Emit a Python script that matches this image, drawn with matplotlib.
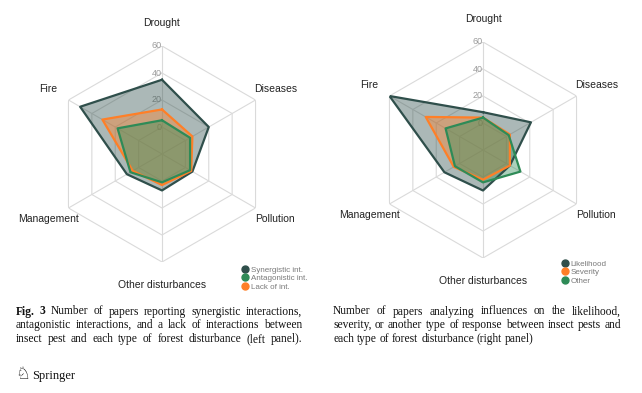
import numpy as np
import matplotlib
matplotlib.use("Agg")
import matplotlib.pyplot as plt
from matplotlib.lines import Line2D

# ---- data ----
categories = ['Drought', 'Diseases', 'Pollution', 'Other disturbances', 'Management', 'Fire']
ticks = [0, 20, 40, 60]

synergistic = [35, 20, 6, 7, 10, 50]
antagonistic = [5, 4, 4, 1, 7, 18]
lack = [13, 6, 5, 3, 5, 31]

likelihood = [8, 21, 3, 10, 13, 60]
severity = [4, 3, 3, 2, 5, 29]
other = [4, 2, 12, 4, 4, 12]

left_labels = ['Synergistic int.', 'Antagonistic int.', 'Lack of int.']
right_labels = ['Likelihood', 'Severity', 'Other']

DARK = '#2f4f4b'
GREEN = '#2e8b57'
ORANGE = '#ff7f27'
GRID = '#dadada'

W, H = 642, 393
fig = plt.figure(figsize=(W / 100, H / 100), dpi=100)
fig.patch.set_facecolor('white')

angles = np.arange(len(categories)) * 2 * np.pi / len(categories)
closed = np.append(angles, angles[0])


def radar(rect, series, colors):
    ax = fig.add_axes(rect, projection='polar')
    ax.set_theta_offset(np.pi / 2)
    ax.set_theta_direction(-1)
    ax.set_ylim(-20, 60)
    ax.set_axis_off()
    # hexagonal grid
    for v in ticks:
        ax.plot(closed, [v] * len(closed), color=GRID, lw=0.8, zorder=1)
    for a in angles:
        ax.plot([a, a], [-20, 60], color=GRID, lw=0.8, zorder=1)
    for v in ticks:
        ax.text(0, v, str(v), ha='right', va='center', fontsize=6.5,
                color='#9a9a9a', family='Liberation Sans', zorder=2)
    for a, c in zip(angles, categories):
        ax.text(a, 77, c, ha='center', va='center', fontsize=7.5,
                color='#222222', family='Liberation Sans')
    for vals, col in zip(series, colors):
        v = np.append(vals, vals[0])
        ax.fill(closed, v, color=col, alpha=0.4, lw=0, zorder=3)
        ax.plot(closed, v, color=col, lw=1.6, zorder=4)
    return ax


radar([54 / W, 131 / H, 216 / W, 216 / H],
      [synergistic, lack, antagonistic], [DARK, ORANGE, GREEN])
radar([375 / W, 135 / H, 216 / W, 216 / H],
      [likelihood, severity, other], [DARK, ORANGE, GREEN])


def legend(labels, colors, x, y):
    handles = [Line2D([], [], marker='o', ls='', color=c, markersize=5) for c in colors]
    fig.legend(handles, labels, loc='upper left', bbox_to_anchor=(x / W, 1 - y / H),
               frameon=False, prop={'family': 'Liberation Sans', 'size': 5.8},
               labelcolor='#7a7a7a', handlelength=0.8, handletextpad=0.3,
               labelspacing=0.12, borderpad=0, borderaxespad=0)


legend(left_labels, [DARK, GREEN, ORANGE], 242, 266)
legend(right_labels, [DARK, ORANGE, GREEN], 562, 260)

# ---- caption ----
renderer = fig.canvas.get_renderer()
CAP = dict(family='Liberation Serif', size=8.3, color='#111111')


def line(words, x0, x1, y, justify=True):
    objs = []
    for w, bold in words:
        t = fig.text(0, 1 - y / H, w, va='baseline', ha='left',
                     weight='bold' if bold else 'normal', **CAP)
        objs.append(t)
    widths = [t.get_window_extent(renderer).width for t in objs]
    if justify and len(objs) > 1:
        gap = (x1 - x0 - sum(widths)) / (len(objs) - 1)
    else:
        gap = objs[0].get_fontsize() * 0.25 * 100 / 72
    x = x0
    for t, w in zip(objs, widths):
        t.set_x(x / W)
        x += w + gap


def words(s, bold_n=0):
    ws = s.split()
    return [(w, i < bold_n) for i, w in enumerate(ws)]


left_cap = ['Fig. 3 Number of papers reporting synergistic interactions,',
            'antagonistic interactions, and a lack of interactions between',
            'insect pest and each type of forest disturbance (left panel).']
right_cap = ['Number of papers analyzing influences on the likelihood,',
             'severity, or another type of response between insect pests and',
             'each type of forest disturbance (right panel)']
ys = [314.5, 328, 342]
for i, (s, y) in enumerate(zip(left_cap, ys)):
    line(words(s, 2 if i == 0 else 0), 16, 302, y)
for i, (s, y) in enumerate(zip(right_cap, ys)):
    line(words(s), 333, 621, y, justify=i < 2)

fig.text(15 / W, 1 - 379 / H, '\u2658', family='DejaVu Sans', size=12,
         color='#111111', va='baseline')
fig.text(32 / W, 1 - 378.5 / H, 'Springer', va='baseline', **dict(CAP, size=9))

fig.savefig('out.png', dpi=100, facecolor='white')
